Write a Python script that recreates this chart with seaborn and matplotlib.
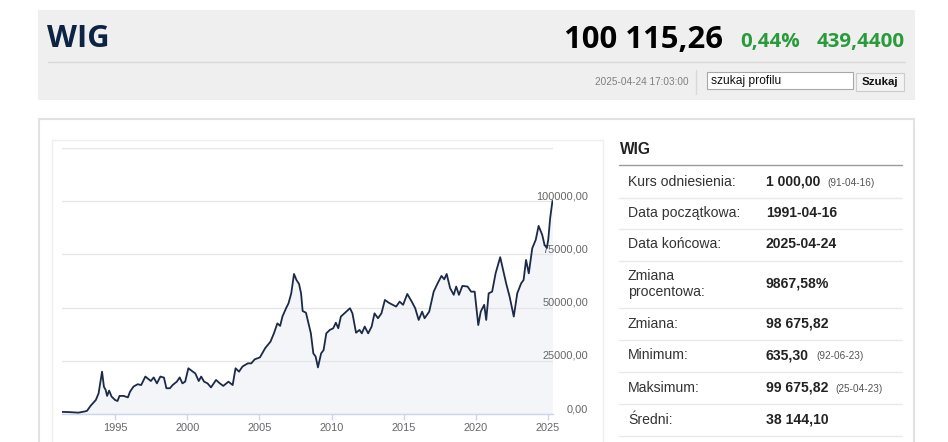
import matplotlib
matplotlib.use("Agg")
import matplotlib.pyplot as plt
import seaborn as sns
import pandas as pd
from matplotlib.patches import Rectangle
from matplotlib.lines import Line2D

# ---------------- data ----------------
years = [1991.29, 1991.8, 1992.47, 1992.9, 1993.06, 1993.3, 1993.67, 1993.86, 1994.1, 1994.23,
         1994.35, 1994.45, 1994.59, 1994.76, 1995.0, 1995.17, 1995.31, 1995.6, 1995.89, 1996.04,
         1996.28, 1996.57, 1996.81, 1997.1, 1997.48, 1997.68, 1997.9, 1998.14, 1998.39, 1998.56,
         1998.8, 1998.99, 1999.28, 1999.48, 1999.67, 1999.86, 2000.08, 2000.39, 2000.56, 2000.8,
         2000.97, 2001.17, 2001.41, 2001.65, 2002.0, 2002.26, 2002.5, 2002.86, 2003.15, 2003.35,
         2003.59, 2003.83, 2004.2, 2004.44, 2004.68, 2005.04, 2005.4, 2005.77, 2006.01, 2006.25,
         2006.44, 2006.6, 2006.85, 2007.02, 2007.21, 2007.4, 2007.57, 2007.75, 2007.89, 2008.0,
         2008.23, 2008.43, 2008.57, 2008.74, 2008.9, 2009.06, 2009.28, 2009.45, 2009.64, 2009.88,
         2010.12, 2010.3, 2010.47, 2010.65, 2010.89, 2011.28, 2011.45, 2011.7, 2011.94, 2012.1,
         2012.3, 2012.54, 2012.78, 2012.98, 2013.22, 2013.46, 2013.7, 2013.94, 2014.24, 2014.48,
         2014.72, 2014.96, 2015.25, 2015.56, 2015.8, 2016.04, 2016.28, 2016.45, 2016.77, 2017.08,
         2017.33, 2017.62, 2017.81, 2017.98, 2018.22, 2018.47, 2018.64, 2018.83, 2019.07, 2019.43,
         2019.67, 2019.92, 2020.17, 2020.34, 2020.58, 2020.72, 2020.89, 2021.13, 2021.37, 2021.69,
         2021.86, 2022.1, 2022.34, 2022.63, 2022.87, 2023.14, 2023.31, 2023.48, 2023.67, 2023.91,
         2024.15, 2024.35, 2024.6, 2024.76, 2024.92, 2025.02, 2025.15, 2025.31]
values = [1000, 900, 640, 1200, 1500, 3800, 6600, 9700, 19900, 12800,
          11300, 8500, 11000, 8200, 6600, 6100, 8500, 8500, 7800, 10500,
          12900, 14000, 13600, 17600, 15500, 17200, 14400, 17600, 17100, 12100,
          12100, 13600, 15200, 17200, 14400, 15200, 21500, 19900, 19100, 15500,
          17600, 15200, 14400, 12500, 16000, 14400, 13200, 15200, 13600, 21500,
          19900, 22300, 23800, 23800, 25700, 26600, 30900, 34000, 37900, 42600,
          41400, 45800, 49700, 52000, 56700, 65800, 63000, 61100, 56700, 48400,
          47600, 41800, 37900, 28500, 27000, 21900, 28500, 30000, 37900, 39500,
          40300, 42900, 40300, 45800, 47300, 49700, 47300, 38200, 39500, 37900,
          41100, 37900, 41100, 47300, 45000, 47300, 53600, 52400, 51300, 50500,
          52800, 51300, 56400, 52800, 49700, 44200, 48100, 45000, 48100, 57500,
          61100, 64900, 63300, 65800, 59100, 56000, 59900, 56000, 60200, 59900,
          57500, 57500, 41800, 48100, 51300, 44200, 56700, 57500, 66100, 73700,
          68500, 61400, 55200, 45800, 56700, 61400, 63000, 72400, 66100, 77900,
          81800, 88400, 84200, 79500, 78000, 82000, 92000, 100100]

x_ticks = [1995, 2000, 2005, 2010, 2015, 2020, 2025]
y_ticks = [0, 25000, 50000, 75000, 100000, 125000]
y_tick_labels = ["0,00", "25000,00", "50000,00", "75000,00", "100000,00", ""]

index_name = "WIG"
price = "100 115,26"
change_pct = "0,44%"
change_abs = "439,4400"
timestamp = "2025-04-24 17:03:00"
search_placeholder = "szukaj profilu"
search_button = "Szukaj"

row_labels = ["Kurs odniesienia:", "Data początkowa:", "Data końcowa:", "Zmiana\nprocentowa:",
              "Zmiana:", "Minimum:", "Maksimum:", "Średni:"]
row_values = ["1 000,00", "1991-04-16", "2025-04-24", "9867,58%",
              "98 675,82", "635,30", "99 675,82", "38 144,10"]
row_notes = ["(91-04-16)", "", "", "", "", "(92-06-23)", "(25-04-23)", ""]

# ---------------- layout helpers ----------------
W, H = 948, 442
def fx(x): return x / W
def fy(y): return 1 - y / H
def PT(px): return px * 0.72

sns.set_theme(style="white")
plt.rcParams["font.family"] = ["Liberation Sans", "DejaVu Sans"]

fig = plt.figure(figsize=(W / 100, H / 100), dpi=100)
fig.patch.set_facecolor("white")

def rect(x0, y0, x1, y1, fc, ec="none", lw=1.0, z=-10):
    fig.add_artist(Rectangle((fx(x0), fy(y1)), (x1 - x0) / W, (y1 - y0) / H,
                             transform=fig.transFigure, fc=fc, ec=ec, lw=lw, zorder=z))

def hline(x0, x1, y, color, lw=1.0, z=-5):
    fig.add_artist(Line2D([fx(x0), fx(x1)], [fy(y), fy(y)], transform=fig.transFigure,
                          color=color, lw=lw, zorder=z))

def vline(x, y0, y1, color, lw=1.0, z=-5):
    fig.add_artist(Line2D([fx(x), fx(x)], [fy(y0), fy(y1)], transform=fig.transFigure,
                          color=color, lw=lw, zorder=z))

# ---------------- header ----------------
rect(38, 10, 915, 100, "#efefef")
hline(48, 905, 62, "#d8d8d8")
fig.text(fx(47), fy(47), index_name, family=["Open Sans", "DejaVu Sans"], fontweight="bold",
         fontsize=PT(31), color="#0d2344", va="baseline", ha="left")
fig.text(fx(564), fy(48), price, family=["Open Sans", "DejaVu Sans"], fontweight="bold",
         fontsize=PT(31), color="#000000", va="baseline", ha="left")
fig.text(fx(740), fy(47), change_pct, family=["Open Sans", "DejaVu Sans"], fontweight="bold",
         fontsize=PT(20.5), color="#2a9b3b", va="baseline", ha="left")
fig.text(fx(905), fy(47), change_abs, family=["Open Sans", "DejaVu Sans"], fontweight="bold",
         fontsize=PT(20.5), color="#2a9b3b", va="baseline", ha="right")
fig.text(fx(595), fy(82), timestamp, fontsize=PT(10), color="#808080", va="center", ha="left")
vline(696, 70, 94, "#d9d9d9")
rect(707, 72, 853, 89, "white", "#a8a8a8", 0.8, z=-4)
fig.text(fx(711), fy(81), search_placeholder, fontsize=PT(12), color="#111111", va="center", ha="left")
rect(856, 73, 904, 91, "#f3f3f3", "#cccccc", 0.8, z=-4)
fig.text(fx(880), fy(82), search_button, fontsize=PT(11.5), fontweight="bold", color="#111111",
         va="center", ha="center")

# ---------------- content boxes ----------------
rect(39, 119, 914, 460, "white", "#e2e2e2", 1.5)
rect(52, 140, 603, 460, "white", "#eeeeee", 1.0, z=-9)

# ---------------- chart ----------------
ax_left, ax_right, ax_top, ax_bottom = 61.5, 552.6, 148, 414
ax = fig.add_axes([fx(ax_left), fy(ax_bottom), (ax_right - ax_left) / W, (ax_bottom - ax_top) / H])
ax.set_facecolor("none")
df = pd.DataFrame({"rok": years, "wartosc": values})
ax.fill_between(df["rok"], df["wartosc"], 0, color="#f3f5f9", lw=0, zorder=1)
sns.lineplot(data=df, x="rok", y="wartosc", ax=ax, color="#1c2a48", linewidth=1.3, zorder=3)
ax.set_axisbelow(False)
ax.set_xlim(1991.29, 2025.32)
ax.set_ylim(0, 125000)
ax.set_xlabel("")
ax.set_ylabel("")
ax.set_xticks(x_ticks)
ax.set_xticklabels([str(t) for t in x_ticks])
ax.set_yticks(y_ticks)
ax.set_yticklabels(y_tick_labels)
ax.yaxis.tick_right()
ax.grid(axis="y", color="#e6e6e6", lw=1.0)
ax.grid(axis="x", visible=False)
for s in ["top", "left", "right"]:
    ax.spines[s].set_visible(False)
ax.spines["bottom"].set_color("#ccd6eb")
ax.spines["bottom"].set_linewidth(1.0)
ax.tick_params(axis="x", length=PT(6), width=1, color="#ccd6eb", labelcolor="#666666",
               labelsize=PT(11), pad=PT(3), bottom=True)
ax.tick_params(axis="y", length=0, labelcolor="#666666", labelsize=PT(11),
               pad=PT(588 - ax_right), right=True, left=False)
for lab in ax.get_yticklabels():
    lab.set_ha("right")
    lab.set_va("bottom")

# ---------------- side table ----------------
fig.text(fx(620), fy(150), index_name, fontsize=PT(15.5), fontweight="bold", color="#222222",
         va="center", ha="left")
hline(619, 902, 165, "#9a9a9a")
row_y = [182, 213, 244, 284, 324, 355, 388, 420]
sep_y = [198, 229, 261, 308, 340, 372, 404, 436]
for y in sep_y:
    hline(619, 902, y, "#e9e9e9")
renderer = fig.canvas.get_renderer()
for lab, val, note, y in zip(row_labels, row_values, row_notes, row_y):
    fig.text(fx(628), fy(y), lab, fontsize=PT(14), color="#333333", va="center", ha="left",
             linespacing=1.1)
    t = fig.text(fx(766), fy(y), val, fontsize=PT(14), fontweight="bold", color="#222222",
                 va="center", ha="left")
    if note:
        bb = t.get_window_extent(renderer=renderer)
        fig.text((bb.x1 + 7) / W, fy(y + 1), note, fontsize=PT(10), color="#555555",
                 va="center", ha="left")

fig.savefig("out.png", dpi=100, facecolor="white")
